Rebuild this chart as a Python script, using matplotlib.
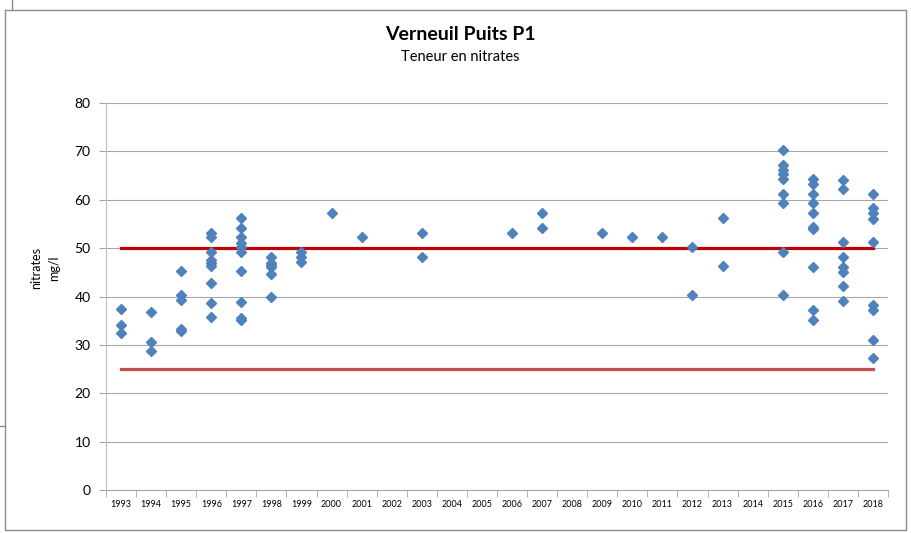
import matplotlib.pyplot as plt
from matplotlib.lines import Line2D

plt.rcParams['font.family'] = ['Lato', 'DejaVu Sans']

years = [str(y) for y in range(1993, 2019)]

# nitrate measurements (mg/l) per year
nitrates = {
    '1993': [37.4, 34.2, 32.4],
    '1994': [36.8, 30.6, 28.7],
    '1995': [45.2, 40.3, 39.2, 33.3, 32.9],
    '1996': [53.1, 52.3, 49.2, 47.5, 47.0, 46.3, 42.8, 38.6, 35.8],
    '1997': [56.2, 54.2, 52.2, 51.1, 50.3, 49.2, 45.2, 38.8, 35.5, 35.2],
    '1998': [48.2, 47.0, 46.5, 46.0, 44.6, 40.0],
    '1999': [49.3, 48.2, 47.2],
    '2000': [57.2],
    '2001': [52.2],
    '2003': [53.1, 48.2],
    '2006': [53.1],
    '2007': [57.3, 54.2],
    '2009': [53.1],
    '2010': [52.3],
    '2011': [52.3],
    '2012': [50.3, 40.3],
    '2013': [56.2, 46.3],
    '2015': [70.3, 67.2, 66.1, 65.3, 64.2, 61.2, 59.3, 49.2, 40.3],
    '2016': [64.3, 63.2, 61.2, 59.3, 57.2, 54.4, 54.0, 46.2, 37.2, 35.2],
    '2017': [64.1, 62.2, 51.2, 48.2, 46.2, 45.1, 42.2, 39.1],
    '2018': [61.2, 58.2, 57.2, 56.1, 51.2, 38.2, 37.2, 31.1, 27.2],
}

limit_high = 50
limit_low = 25

fig = plt.figure(figsize=(9.12, 5.33), dpi=100)
ax = fig.add_axes([106 / 912, 1 - 490 / 533, 782 / 912, 387 / 533])

xs, ys = [], []
for yr, vals in nitrates.items():
    i = years.index(yr)
    for v in vals:
        xs.append(i)
        ys.append(v)
ax.plot(xs, ys, linestyle='none', marker='D', markersize=5.2,
        color='#4F81BD', markeredgecolor='#4F81BD', zorder=3)

ax.plot([0, len(years) - 1], [limit_high, limit_high], color='#C00000', lw=2.3, zorder=2)
ax.plot([0, len(years) - 1], [limit_low, limit_low], color='#C0504D', lw=2.3, zorder=2)

ax.set_xlim(-0.5, len(years) - 0.5)
ax.set_ylim(0, 80)
ax.set_yticks(range(0, 81, 10))
ax.yaxis.grid(True, color='#A6A6A6', lw=0.8)
ax.set_axisbelow(True)

ax.set_xticks(range(len(years)))
ax.set_xticklabels(years, fontsize=6.5)
ax.set_xticks([i - 0.5 for i in range(len(years) + 1)], minor=True)
ax.tick_params(axis='x', which='major', length=0, pad=7)
ax.tick_params(axis='x', which='minor', length=5, color='#A6A6A6')
ax.tick_params(axis='y', length=5, color='#A6A6A6', labelsize=10, pad=6)

for s in ['top', 'right']:
    ax.spines[s].set_visible(False)
ax.spines['left'].set_color('#BFBFBF')
ax.spines['bottom'].set_color('#A6A6A6')

fig.text(45 / 912, 1 - 268 / 533, 'nitrates\nmg/l', rotation=90, ha='center', va='center',
         fontsize=9, linespacing=1.6)
fig.text(460 / 912, 1 - 34 / 533, 'Verneuil Puits P1', ha='center', va='center',
         fontsize=14, fontweight='bold')
fig.text(460 / 912, 1 - 57 / 533, 'Teneur en nitrates', ha='center', va='center', fontsize=10.5)

# chart frame and neighbouring fragments
border = dict(color='#8C8C8C', lw=1)
fig.add_artist(Line2D([5 / 912, 906 / 912, 906 / 912, 5 / 912, 5 / 912],
                      [1 - 10 / 533, 1 - 10 / 533, 1 - 530 / 533, 1 - 530 / 533, 1 - 10 / 533],
                      transform=fig.transFigure, **border))
fig.add_artist(Line2D([12 / 912, 12 / 912], [1, 1 - 10 / 533], transform=fig.transFigure, **border))
fig.add_artist(Line2D([0, 5 / 912], [1 - 426 / 533, 1 - 426 / 533], transform=fig.transFigure, **border))

fig.savefig('out.png', dpi=100)
